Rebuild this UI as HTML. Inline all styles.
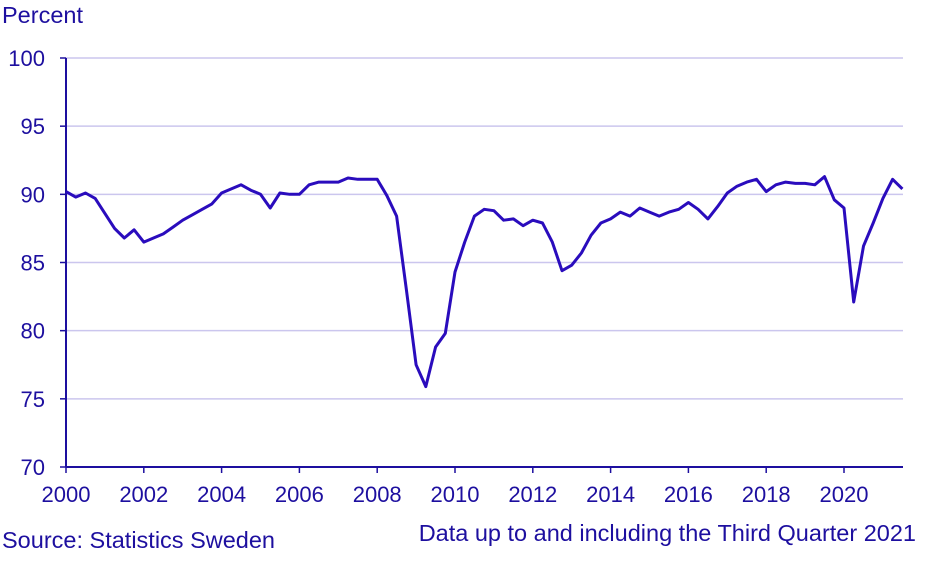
<!DOCTYPE html>
<html><head><meta charset="utf-8"><style>
body{margin:0;background:#fff}
svg text{font-family:"Liberation Sans",sans-serif;fill:#1d0f9f}
</style></head><body>
<svg width="940" height="560" xmlns="http://www.w3.org/2000/svg">
<g id="grid"></g><g id="axes"></g>
<path id="line" fill="none" stroke="#2a0cbd" stroke-width="3" stroke-linejoin="round"/>
<text x="2" y="23" font-size="23.5">Percent</text>
<text x="2" y="548" font-size="23.5">Source: Statistics Sweden</text>
<text x="916" y="541" font-size="23.5" text-anchor="end">Data up to and including the Third Quarter 2021</text>
</svg>
<script>
const startYear = 2000;
const values = [90.2,89.8,90.1,89.7, 88.6,87.5,86.8,87.4, 86.5,86.8,87.1,87.6, 88.1,88.5,88.9,89.3, 90.1,90.4,90.7,90.3, 90.0,89.0,90.1,90.0, 90.0,90.7,90.9,90.9, 90.9,91.2,91.1,91.1, 91.1,89.9,88.4,83.0, 77.5,75.9,78.8,79.8, 84.3,86.5,88.4,88.9, 88.8,88.1,88.2,87.7, 88.1,87.9,86.5,84.4, 84.8,85.7,87.0,87.9, 88.2,88.7,88.4,89.0, 88.7,88.4,88.7,88.9, 89.4,88.9,88.2,89.1, 90.1,90.6,90.9,91.1, 90.2,90.7,90.9,90.8, 90.8,90.7,91.3,89.6, 89.0,82.1,86.2,87.9, 89.7,91.1,90.4];
const yTicks = [70,75,80,85,90,95,100];
const xTicks = [2000,2002,2004,2006,2008,2010,2012,2014,2016,2018,2020];
const NS="http://www.w3.org/2000/svg";
const X0=66,X1=903,Y0=467,Y1=58;
const x=t=>X0+(t-2000)*(844-66)/20;
const y=v=>Y0-(v-70)*(Y0-Y1)/30;
const grid=document.getElementById('grid'),axes=document.getElementById('axes');
function mk(tag,attrs,parent){const e=document.createElementNS(NS,tag);for(const k in attrs)e.setAttribute(k,attrs[k]);parent.appendChild(e);return e;}
yTicks.forEach(v=>{
  if(v>70){const g=mk('line',{x1:X0,x2:X1,y1:y(v),y2:y(v),stroke:'#cbc6ee','stroke-width':1.5},grid);
  
  }
  const tk=mk('line',{x1:X0-6,x2:X0,y1:y(v),y2:y(v),stroke:'#1d0f9f','stroke-width':1.5},axes);
  
  
  const t=mk('text',{x:X0-21,y:y(v)+8,'font-size':22,'text-anchor':'end'},axes);t.textContent=v;
  
  
});
xTicks.forEach(yr=>{
  const tk=mk('line',{x1:x(yr),x2:x(yr),y1:Y0,y2:Y0+6,stroke:'#1d0f9f','stroke-width':1.5},axes);
  
  
  const t=mk('text',{x:x(yr),y:Y0+35,'font-size':22,'text-anchor':'middle'},axes);t.textContent=yr;
  
  
});
const ya=mk('line',{x1:X0,x2:X0,y1:Y1,y2:Y0,stroke:'#1d0f9f','stroke-width':2},axes);


const xa=mk('line',{x1:X0,x2:X1,y1:Y0,y2:Y0,stroke:'#1d0f9f','stroke-width':2},axes);


document.getElementById('line').setAttribute('d',values.map((v,i)=>(i?'L':'M')+x(startYear+i/4).toFixed(1)+','+y(v).toFixed(1)).join(''));
</script>
</body></html>
